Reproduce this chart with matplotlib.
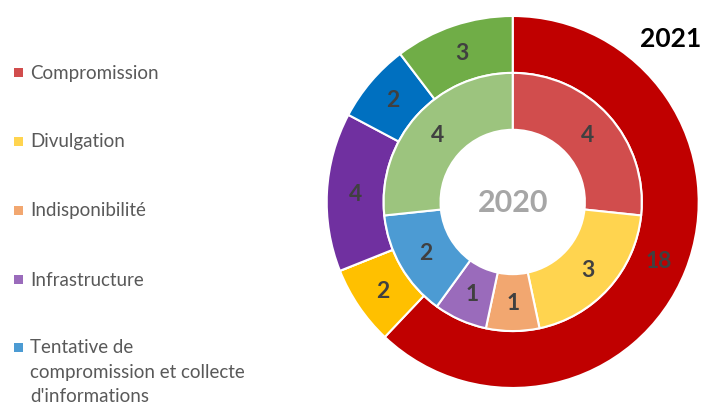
import numpy as np
import matplotlib.pyplot as plt
from matplotlib.patches import Rectangle

categories = ["Compromission", "Divulgation", "Indisponibilité", "Infrastructure",
              "Tentative de\ncompromission et collecte\nd'informations", "Autres"]
values_2021 = [18, 2, 0, 4, 2, 3]
values_2020 = [4, 3, 1, 1, 2, 4]

colors_2021 = ["#C00000", "#FFC000", "#ED7D31", "#7030A0", "#0070C0", "#70AD47"]
colors_2020 = ["#D14D4D", "#FFD44F", "#F2A770", "#9A6BBB", "#4C9BD3", "#9CC47E"]
legend_colors = ["#D14D4D", "#FFD44F", "#F2A770", "#9A6BBB", "#4C9BD3"]

plt.rcParams['font.family'] = ['Lato', 'DejaVu Sans']

fig = plt.figure(figsize=(7.02, 4.06), dpi=100)
ax = fig.add_axes([0.4654, 0.0419, 0.5299, 0.9163])

width = 0.306
wp = dict(width=width, edgecolor='white', linewidth=1.5)
outer, _ = ax.pie(values_2021, radius=1.0, colors=colors_2021, startangle=90,
                  counterclock=False, wedgeprops=wp)
inner, _ = ax.pie(values_2020, radius=1.0 - width, colors=colors_2020, startangle=90,
                  counterclock=False, wedgeprops=wp)
# pie resets the limits, so set them again
ax.set_xlim(-1, 1)
ax.set_ylim(-1, 1)
ax.set_aspect('equal')
ax.axis('off')


def label_ring(wedges, vals, r):
    for w, v in zip(wedges, vals):
        if v == 0:
            continue
        ang = np.deg2rad((w.theta1 + w.theta2) / 2)
        ax.text(r * np.cos(ang), r * np.sin(ang), str(v), ha='center', va='center',
                fontsize=16.5, fontweight='bold', color='#404040')


label_ring(outer, values_2021, 1.0 - width / 2)
label_ring(inner, values_2020, 1.0 - 1.5 * width)

ax.text(0, 0, "2020", ha='center', va='center', fontsize=22, fontweight='bold', color='#A6A6A6')
fig.text(671 / 702, 1 - 39 / 406, "2021", ha='center', va='center', fontsize=19,
         fontweight='bold', color='black')

# legend (first five categories only)
rows_y = [73, 142, 211, 280, 348]
for name, col, y in zip(categories[:5], legend_colors, rows_y):
    fig.patches.append(Rectangle((14 / 702, 1 - (y + 4.5) / 406), 9 / 702, 9 / 406,
                                 transform=fig.transFigure, facecolor=col, edgecolor='none'))
    if '\n' in name:
        fig.text(30 / 702, 1 - (y - 9) / 406, name, ha='left', va='top',
                 fontsize=13.5, color='#595959', linespacing=1.55)
    else:
        fig.text(30 / 702, 1 - y / 406, name, ha='left', va='center',
                 fontsize=13.5, color='#595959')

fig.savefig("out.png", dpi=100)
